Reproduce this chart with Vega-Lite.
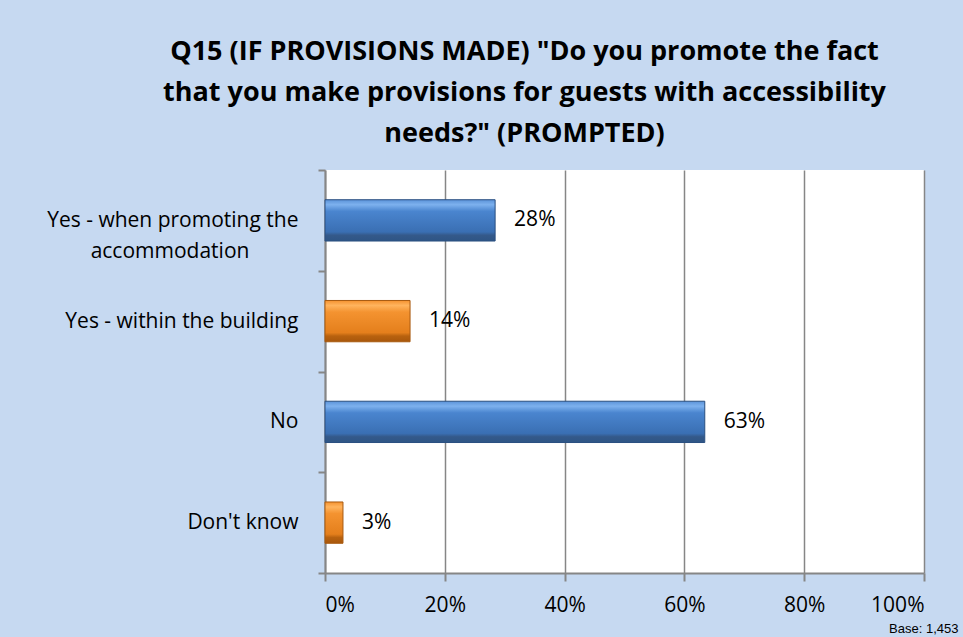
{
  "$schema": "https://vega.github.io/schema/vega-lite/v6.json",
  "width": 599,
  "height": 403,
  "autosize": "none",
  "padding": {"left": 325, "top": 170, "right": 39, "bottom": 64},
  "background": "#C6D9F1",
  "view": {"fill": "white", "stroke": null},
  "title": {
    "text": ["Q15 (IF PROVISIONS MADE) \"Do you promote the fact", "that you make provisions for guests with accessibility", "needs?\" (PROMPTED)"],
    "font": "Open Sans",
    "fontSize": 27,
    "fontWeight": "bold",
    "color": "black",
    "anchor": "middle",
    "dx": -100,
    "offset": 11,
    "lineHeight": 41
  },
  "data": {
    "values": [
      {"answer": "Yes - when promoting the|accommodation\u00a0\u00a0\u00a0\u00a0\u00a0\u00a0\u00a0\u00a0\u00a0\u200b", "value": 0.284, "series": "A"},
      {"answer": "Yes - within the building", "value": 0.142, "series": "B"},
      {"answer": "No", "value": 0.634, "series": "A"},
      {"answer": "Don't know", "value": 0.03, "series": "B"}
    ]
  },
  "encoding": {
    "y": {
      "field": "answer",
      "type": "nominal",
      "sort": null,
      "scale": {"paddingInner": 0, "paddingOuter": 0},
      "axis": {
        "title": null,
        "labelExpr": "split(datum.label, '|')",
        "labelFont": "Open Sans",
        "labelFontSize": 21,
        "labelColor": "black",
        "labelLineHeight": 31,
        "labelLimit": 0,
        "labelPadding": 20,
        "domainColor": "#868686",
        "domainWidth": 2,
        "tickBand": "extent",
        "tickColor": "#868686",
        "tickWidth": 2,
        "tickSize": 7
      }
    }
  },
  "layer": [
    {
      "mark": {"type": "bar", "strokeWidth": 1, "height": {"band": 0.41}},
      "encoding": {
        "x": {
          "field": "value",
          "type": "quantitative",
          "scale": {"domain": [0, 1]},
          "axis": {
            "values": [0, 0.2, 0.4, 0.6, 0.8, 1],
            "format": ".0%",
            "grid": true,
            "gridColor": "#868686",
            "gridWidth": 1.5,
            "domainColor": "#868686",
            "domainWidth": 2,
            "tickColor": "#868686",
            "tickWidth": 2,
            "tickSize": 8,
            "labelFont": "Open Sans",
            "labelFontSize": 21,
            "labelColor": "black",
            "labelPadding": 13,
            "title": "Base: 1,453",
            "titleFont": "Liberation Sans",
            "titleFontSize": 13,
            "titleFontWeight": "normal",
            "titleColor": "black",
            "titleAnchor": "end",
            "titleAlign": "right",
            "titleBaseline": "bottom",
            "titleX": 633,
            "titleY": 62
          }
        },
        "color": {
          "condition": {
            "test": "datum.series === 'A'",
            "value": {
              "gradient": "linear", "x1": 0, "y1": 0, "x2": 0, "y2": 1,
              "stops": [
                {"offset": 0, "color": "#5B93D9"},
                {"offset": 0.12, "color": "#7DB1EE"},
                {"offset": 0.28, "color": "#4A85CF"},
                {"offset": 0.78, "color": "#3A6FB3"},
                {"offset": 0.86, "color": "#34598A"},
                {"offset": 1, "color": "#2E5585"}
              ]
            }
          },
          "value": {
            "gradient": "linear", "x1": 0, "y1": 0, "x2": 0, "y2": 1,
            "stops": [
              {"offset": 0, "color": "#F5922F"},
              {"offset": 0.12, "color": "#FFB45E"},
              {"offset": 0.28, "color": "#F49330"},
              {"offset": 0.78, "color": "#E47F1C"},
              {"offset": 0.86, "color": "#B8620F"},
              {"offset": 1, "color": "#A8570C"}
            ]
          }
        },
        "stroke": {
          "condition": {"test": "datum.series === 'A'", "value": "#2A4F80"},
          "value": "#A85A10"
        }
      }
    },
    {
      "mark": {"type": "text", "align": "left", "baseline": "middle", "dx": 19, "font": "Open Sans", "fontSize": 21, "color": "black"},
      "encoding": {
        "x": {"field": "value", "type": "quantitative"},
        "text": {"field": "value", "type": "quantitative", "format": ".0%"}
      }
    }
  ]
}
